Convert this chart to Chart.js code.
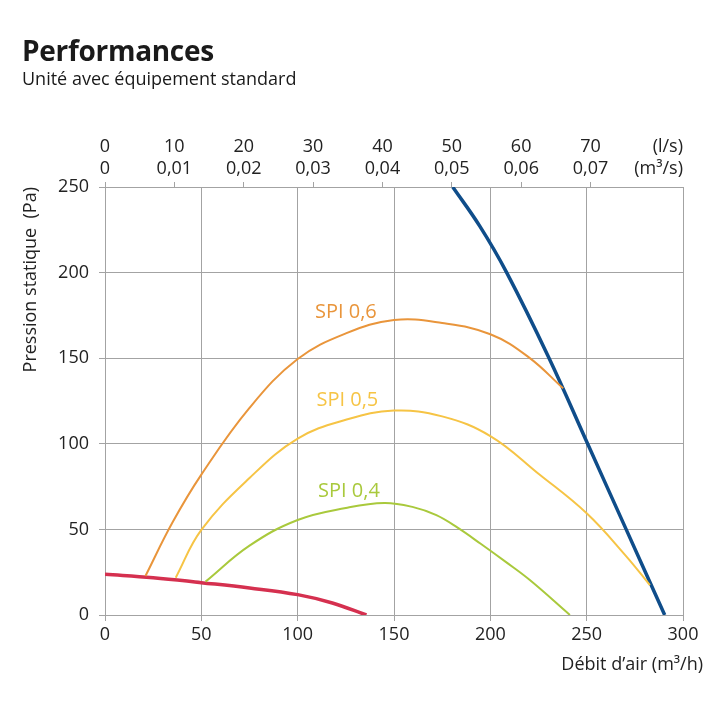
<!DOCTYPE html>
<html>
<head>
<meta charset="utf-8">
<script src="https://cdn.jsdelivr.net/npm/chart.js@4"></script>
<style>
  html, body { margin: 0; padding: 0; background: #fff; }
  #wrap { position: relative; width: 720px; height: 720px; }
  #chartBox { position: absolute; left: 0; top: 0; width: 720px; height: 720px; }
  .title { position: absolute; left: 22px; top: 31px; font: bold 28px "Open Sans", sans-serif; color: #1a1a1a; letter-spacing: -0.3px; }
  .subtitle { position: absolute; left: 22px; top: 66px; font: 18px "Open Sans", sans-serif; color: #1a1a1a; }
</style>
</head>
<body>
<div id="wrap">
  <div id="chartBox"><canvas id="perfChart"></canvas></div>
  <div class="title">Performances</div>
  <div class="subtitle">Unité avec équipement standard</div>
</div>
<script>
// Axis ticks
const xTicks = [0, 50, 100, 150, 200, 250, 300];
const yTicks = [0, 50, 100, 150, 200, 250];
const lsTicks = [0, 10, 20, 30, 40, 50, 60, 70];
const m3sLabels = ['0', '0,01', '0,02', '0,03', '0,04', '0,05', '0,06', '0,07'];

// Curves (x = m3/h, y = Pa)
const redX = [0, 25, 50, 75, 100, 118, 135.7];
const redY = [23.8, 21.8, 18.9, 15.8, 11.9, 7, 0];

const blueX = [180.5, 194.6, 208.5, 230.5, 250.5, 270.5, 290.5];
const blueY = [250, 227, 200, 150, 100, 50, 0];

const spi06X = [21, 35, 50, 75, 100, 125, 150, 175, 200, 220, 237.8];
const spi06Y = [22.8, 54, 82, 121, 149.5, 164.5, 172.3, 170.5, 164, 150.5, 132.4];

const spi05X = [36.7, 50, 75, 100, 125, 150, 175, 200, 225, 250, 270, 282.8];
const spi05Y = [21.8, 49.7, 80, 103, 114, 119.4, 116, 104.5, 82.5, 59.4, 35, 17.5];

const spi04X = [52.2, 75, 100, 125, 145, 160, 172, 183, 195, 208, 220.5, 241.3];
const spi04Y = [19.5, 40.5, 55.5, 62.5, 65.4, 63, 58.3, 51, 41.6, 31, 20.4, 0];

const curveLabels = ['SPI 0,6', 'SPI 0,5', 'SPI 0,4'];
const curveLabelX = [125, 125.8, 126.6];
const curveLabelY = [177, 125.6, 72.4];

const cOrange = '#E9953B';
const cYellow = '#F6C445';
const cGreen = '#A9C93C';
const cRed = '#D5304F';
const cBlue = '#0F4D8A';
const gridCol = '#a3a3a3';
const textCol = '#222';
const FONT = '"Open Sans", sans-serif';

function pts(xs, ys) {
  return xs.map((x, i) => ({ x, y: ys[i] }));
}

const extraText = {
  id: 'extraText',
  afterDraw(chart) {
    const c = chart.ctx;
    const xs = chart.scales.x;
    const ys = chart.scales.y;
    const area = chart.chartArea;
    c.save();
    // curve labels
    c.font = '20px ' + FONT;
    c.textAlign = 'center';
    c.textBaseline = 'middle';
    const cols = [cOrange, cYellow, cGreen];
    curveLabels.forEach((t, i) => {
      c.fillStyle = cols[i];
      c.fillText(t, xs.getPixelForValue(curveLabelX[i]), ys.getPixelForValue(curveLabelY[i]));
    });
    // top units
    c.fillStyle = textCol;
    c.font = '18px ' + FONT;
    c.textAlign = 'right';
    c.textBaseline = 'middle';
    c.fillText('(l/s)', area.right, 147);
    c.fillText('(m³/s)', area.right, 169);
    // x title
    c.fillText('Débit d\u2019air (m³/h)', 703, 665);
    // y title
    c.translate(31, area.top);
    c.rotate(-Math.PI / 2);
    c.fillText('Pression statique  (Pa)', 0, 0);
    c.restore();
  }
};

const lineDs = (label, xs, ys, color, width) => ({
  label,
  data: pts(xs, ys),
  borderColor: color,
  borderWidth: width,
  pointRadius: 0,
  fill: false,
  tension: 0.4,
  borderCapStyle: 'butt'
});

new Chart(document.getElementById('perfChart'), {
  type: 'line',
  data: {
    datasets: [
      lineDs('SPI 0,4', spi04X, spi04Y, cGreen, 2),
      lineDs('SPI 0,5', spi05X, spi05Y, cYellow, 2),
      lineDs('SPI 0,6', spi06X, spi06Y, cOrange, 2),
      lineDs('Min', redX, redY, cRed, 3.5),
      lineDs('Max', blueX, blueY, cBlue, 3.5)
    ]
  },
  options: {
    responsive: true,
    maintainAspectRatio: false,
    animation: false,
    layout: { padding: { left: 0, right: 37, top: 0, bottom: 0 } },
    plugins: { legend: { display: false }, tooltip: { enabled: false } },
    scales: {
      x: {
        type: 'linear',
        position: 'bottom',
        min: 0,
        max: 300,
        afterBuildTicks: s => { s.ticks = xTicks.map(v => ({ value: v })); },
        afterFit: s => { s.height = 105; },
        grid: { color: gridCol, lineWidth: 1, tickLength: 6 },
        border: { color: gridCol },
        ticks: { color: textCol, font: { family: FONT, size: 18 }, padding: 3, maxRotation: 0 }
      },
      top: {
        type: 'linear',
        position: 'top',
        min: 0,
        max: 300 / 3.6,
        afterBuildTicks: s => { s.ticks = lsTicks.map(v => ({ value: v })); },
        afterFit: s => { s.height = 187; },
        grid: { drawOnChartArea: false, color: gridCol, tickLength: 5 },
        border: { color: gridCol },
        ticks: {
          color: textCol,
          font: { family: FONT, size: 18, lineHeight: 1.22 },
          padding: 2,
          maxRotation: 0,
          callback: (v, i) => [String(lsTicks[i]), m3sLabels[i]]
        }
      },
      y: {
        type: 'linear',
        min: 0,
        max: 250,
        afterBuildTicks: s => { s.ticks = yTicks.map(v => ({ value: v })); },
        afterFit: s => { s.width = 105; },
        grid: { color: gridCol, lineWidth: 1, tickLength: 6 },
        border: { color: gridCol },
        ticks: { color: textCol, font: { family: FONT, size: 18 }, padding: 10 }
      }
    }
  },
  plugins: [extraText]
});
</script>
</body>
</html>
